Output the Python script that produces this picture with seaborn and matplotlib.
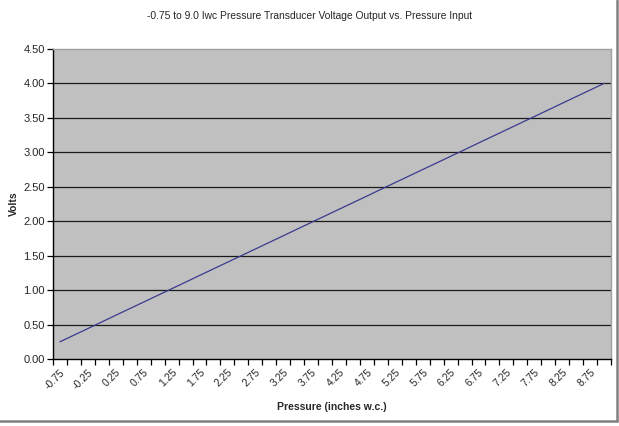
import matplotlib
matplotlib.use("Agg")
import matplotlib.pyplot as plt
from matplotlib.lines import Line2D
import seaborn as sns
import pandas as pd
import numpy as np

pressure = [-0.75, -0.5, -0.25, 0.0, 0.25, 0.5, 0.75, 1.0, 1.25, 1.5,
            1.75, 2.0, 2.25, 2.5, 2.75, 3.0, 3.25, 3.5, 3.75, 4.0,
            4.25, 4.5, 4.75, 5.0, 5.25, 5.5, 5.75, 6.0, 6.25, 6.5,
            6.75, 7.0, 7.25, 7.5, 7.75, 8.0, 8.25, 8.5, 8.75, 9.0]
volts = [0.250, 0.346, 0.442, 0.538, 0.635, 0.731, 0.827, 0.923, 1.019, 1.115,
         1.212, 1.308, 1.404, 1.500, 1.596, 1.692, 1.788, 1.885, 1.981, 2.077,
         2.173, 2.269, 2.365, 2.462, 2.558, 2.654, 2.750, 2.846, 2.942, 3.038,
         3.135, 3.231, 3.327, 3.423, 3.519, 3.615, 3.712, 3.808, 3.904, 4.000]
y_ticks = [0.0, 0.5, 1.0, 1.5, 2.0, 2.5, 3.0, 3.5, 4.0, 4.5]

df = pd.DataFrame({"idx": list(range(len(pressure))), "volts": volts})

sns.set_style("white")
plt.rcParams['font.family'] = ['Liberation Sans', 'DejaVu Sans']

fig = plt.figure(figsize=(6.19, 4.26), dpi=100)
ax = fig.add_axes([53/619, 1-359/426, (611-53)/619, (359-49)/426])
ax.set_facecolor("#C0C0C0")

sns.lineplot(data=df, x="idx", y="volts", ax=ax, color="#3A3A8E", linewidth=0.9)

ax.set_xlim(-0.5, len(pressure) - 0.5)
ax.set_ylim(0, 4.5)
ax.set_yticks(y_ticks)
ax.set_yticklabels([f"{v:.2f}" for v in y_ticks], fontsize=8)
for v in y_ticks[1:-1]:
    ax.axhline(v, color="#1a1a1a", lw=0.9, zorder=1)

# category boundaries as ticks, labels every other category
ax.set_xticks(np.arange(-0.5, len(pressure), 1.0))
ax.set_xticklabels([])
lab_idx = list(range(0, len(pressure), 2))
ax.set_xticks(lab_idx, minor=True)
ax.set_xticklabels([f"{pressure[i]:.2f}" for i in lab_idx], minor=True,
                   rotation=45, ha="right", va="top", rotation_mode="anchor", fontsize=7.5)
ax.tick_params(axis="x", which="major", direction="out", length=4, width=0.9, color="black", bottom=True)
ax.tick_params(axis="x", which="minor", length=0, pad=6, bottom=True)
ax.tick_params(axis="y", which="major", direction="out", length=4, width=0.9, color="black", left=True, pad=2)

for s in ["left", "bottom"]:
    ax.spines[s].set_color("black")
    ax.spines[s].set_linewidth(1.0)
for s in ["top", "right"]:
    ax.spines[s].set_color("#A0A0A0")
    ax.spines[s].set_linewidth(1.0)

ax.set_xlabel("Pressure (inches w.c.)", fontsize=7.5, fontweight="bold", labelpad=8)
ax.set_ylabel("Volts", fontsize=7.5, fontweight="bold", labelpad=3)

fig.text(310/619, 1-16/426, "-0.75 to 9.0 Iwc Pressure Transducer Voltage Output vs. Pressure Input",
         ha="center", va="center", fontsize=7.4)

# chart frame (right and bottom edges)
fig.add_artist(Line2D([617/619, 617/619], [1-421/426, 1.0], transform=fig.transFigure, color="#808080", lw=1.8))
fig.add_artist(Line2D([0, 617/619], [1-421/426, 1-421/426], transform=fig.transFigure, color="#808080", lw=1.8))

fig.savefig("out.png", dpi=100)
